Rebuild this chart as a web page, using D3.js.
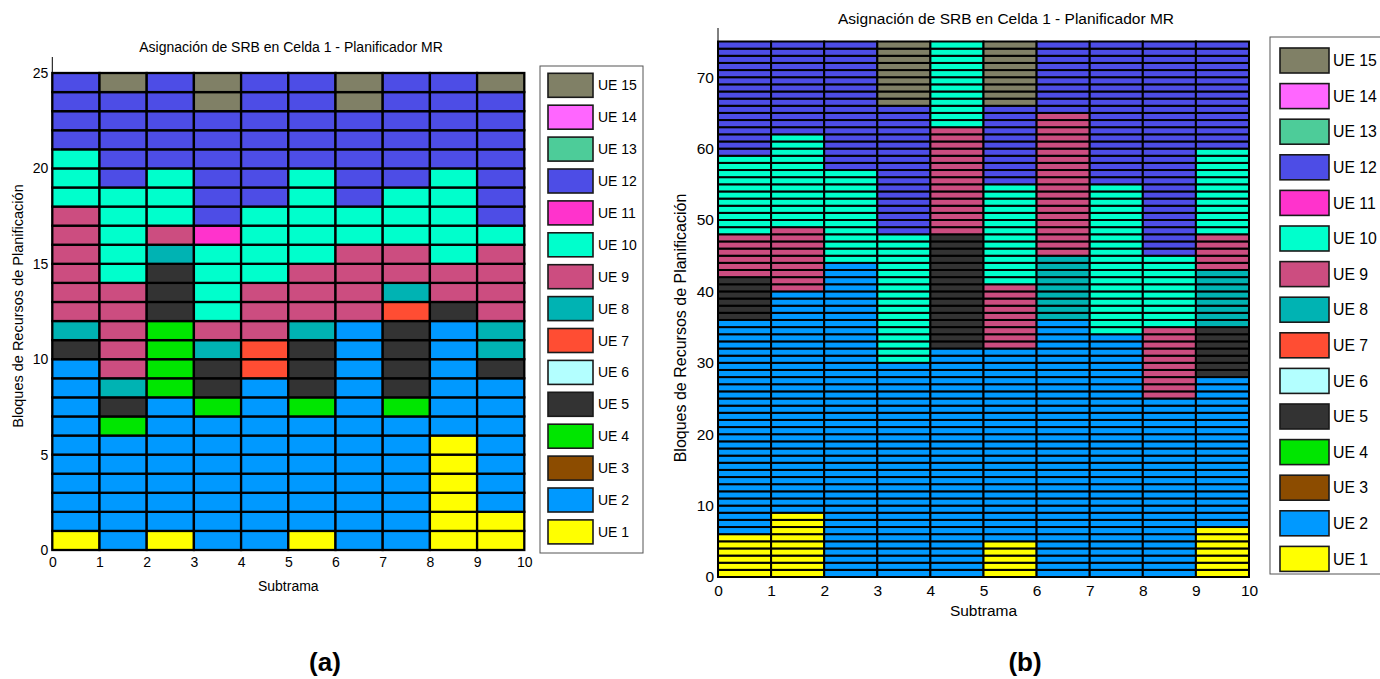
<!DOCTYPE html>
<html>
<head>
<meta charset="utf-8">
<script src="https://cdn.jsdelivr.net/npm/d3@7"></script>
<style>
  body { margin: 0; background: #ffffff; }
  svg { display: block; font-family: "Liberation Sans", Arial, Helvetica, sans-serif; }
</style>
</head>
<body>
<svg id="fig" width="1380" height="679"></svg>
<script>
// Sub-frames (x categories) and tick labels
const subtramas = d3.range(10);
const xTicks = d3.range(0, 11);
const yTicksA = [0, 5, 10, 15, 20, 25];
const yTicksB = [0, 10, 20, 30, 40, 50, 60, 70];
const bloquesA = 25;
const bloquesB = 75;

// User equipments and their colours
const ueIds = d3.range(1, 16);
const ueLabels = ueIds.map(d => "UE " + d);
const ueColors = [
  "#ffff00", // UE 1
  "#0099ff", // UE 2
  "#8c4c00", // UE 3
  "#00e600", // UE 4
  "#333333", // UE 5
  "#b3ffff", // UE 6
  "#ff4d33", // UE 7
  "#00b3b3", // UE 8
  "#cc4d80", // UE 9
  "#00ffcc", // UE 10
  "#ff33cc", // UE 11
  "#4d4de6", // UE 12
  "#4dcc99", // UE 13
  "#ff66ff", // UE 14
  "#808066"  // UE 15
];

// Resource block allocation per sub-frame, as [UE, number of blocks] runs from block 0 upwards
const asignacionA = [
  [[1,1],[2,9],[5,1],[8,1],[9,6],[10,3],[12,4]],
  [[2,6],[4,1],[5,1],[8,1],[9,5],[10,5],[12,5],[15,1]],
  [[1,1],[2,7],[4,4],[5,3],[8,1],[9,1],[10,3],[12,5]],
  [[2,7],[4,1],[5,2],[8,1],[9,1],[10,4],[11,1],[12,6],[15,2]],
  [[2,9],[7,2],[9,3],[10,4],[12,7]],
  [[1,1],[2,6],[4,1],[5,3],[8,1],[9,3],[10,5],[12,5]],
  [[2,12],[9,4],[10,2],[12,5],[15,2]],
  [[2,7],[4,1],[5,4],[7,1],[8,1],[9,2],[10,3],[12,6]],
  [[1,6],[2,6],[5,1],[9,2],[10,5],[12,5]],
  [[1,2],[2,7],[5,1],[8,2],[9,4],[10,1],[12,7],[15,1]]
];

const asignacionB = [
  [[1,6],[2,30],[5,6],[9,6],[10,11],[12,16]],
  [[1,9],[2,31],[9,9],[10,13],[12,13]],
  [[2,44],[10,13],[12,18]],
  [[2,30],[10,18],[12,18],[15,9]],
  [[2,32],[5,16],[9,15],[10,12]],
  [[1,5],[2,27],[9,9],[10,14],[12,11],[15,9]],
  [[2,36],[8,9],[9,20],[12,10]],
  [[2,34],[10,21],[12,20]],
  [[2,25],[9,10],[10,10],[12,30]],
  [[1,7],[2,21],[5,7],[8,8],[9,5],[10,12],[12,15]]
];

const titulo = "Asignación de SRB en Celda 1 - Planificador MR";
const etiquetaX = "Subtrama";
const etiquetaY = "Bloques de Recursos de Planificación";

const svg = d3.select("#fig");
const color = d3.scaleOrdinal().domain(ueIds).range(ueColors);

function expandir(asignacion) {
  const celdas = [];
  asignacion.forEach((runs, col) => {
    let inicio = 0;
    runs.forEach(([ue, n]) => {
      for (let k = 0; k < n; k++) celdas.push({ col: subtramas[col], bloque: inicio + k, ue });
      inicio += n;
    });
  });
  return celdas;
}

function panel(cfg) {
  const g = svg.append("g");
  const x = d3.scaleLinear().domain([0, 10]).range([cfg.left, cfg.right]);
  const y = d3.scaleLinear().domain([0, cfg.bloques]).range([cfg.bottom, cfg.top]);

  // allocation cells
  g.append("g").selectAll("rect")
    .data(expandir(cfg.asignacion))
    .join("rect")
      .attr("x", d => x(d.col))
      .attr("y", d => y(d.bloque + 1))
      .attr("width", d => x(d.col + 1) - x(d.col))
      .attr("height", d => y(d.bloque) - y(d.bloque + 1))
      .attr("fill", d => color(d.ue))
      .attr("stroke", "#000")
      .attr("stroke-width", cfg.borde);

  // axes
  const ax = g.append("g").attr("transform", `translate(0,${cfg.bottom})`)
    .call(d3.axisBottom(x).tickValues(xTicks).tickSize(0).tickPadding(cfg.fs * 0.5));
  ax.select(".domain").remove();
  ax.selectAll("text").attr("font-size", cfg.fs).attr("fill", "#000").attr("font-family", null);

  const ay = g.append("g").attr("transform", `translate(${cfg.left},0)`)
    .call(d3.axisLeft(y).tickValues(cfg.yTicks).tickSize(0).tickPadding(4));
  ay.select(".domain").remove();
  ay.selectAll("text").attr("font-size", cfg.fs).attr("fill", "#000").attr("font-family", null);

  g.append("line").attr("x1", cfg.left).attr("x2", cfg.left)
    .attr("y1", cfg.bottom).attr("y2", cfg.axisTop)
    .attr("stroke", "#000").attr("stroke-width", 1);
  g.append("line").attr("x1", cfg.left).attr("x2", cfg.right)
    .attr("y1", cfg.bottom).attr("y2", cfg.bottom)
    .attr("stroke", "#000").attr("stroke-width", 1);

  // titles
  g.append("text").attr("x", cfg.titleX).attr("y", cfg.titleY)
    .attr("text-anchor", "middle").attr("font-size", cfg.fsTitle).text(titulo);
  g.append("text").attr("x", (cfg.left + cfg.right) / 2).attr("y", cfg.xlabY)
    .attr("text-anchor", "middle").attr("font-size", cfg.fsTitle).text(etiquetaX);
  g.append("text")
    .attr("transform", `translate(${cfg.ylabX},${cfg.ylabY}) rotate(-90)`)
    .attr("text-anchor", "middle").attr("font-size", cfg.fsYlab).text(etiquetaY);

  // legend
  const lg = g.append("g");
  lg.append("rect").attr("x", cfg.leg.x).attr("y", cfg.leg.y)
    .attr("width", cfg.leg.w).attr("height", cfg.leg.h)
    .attr("fill", "#fff").attr("stroke", "#555").attr("stroke-width", 1);
  const orden = ueIds.slice().reverse();
  const item = lg.selectAll("g.item").data(orden).join("g")
    .attr("transform", (d, i) => `translate(0,${cfg.leg.first + i * cfg.leg.step})`);
  item.append("rect")
    .attr("x", cfg.leg.sx).attr("y", -cfg.leg.sh / 2)
    .attr("width", cfg.leg.sw).attr("height", cfg.leg.sh)
    .attr("fill", d => color(d)).attr("stroke", "#1a1a1a").attr("stroke-width", 1.6);
  item.append("text")
    .attr("x", cfg.leg.tx).attr("y", 0).attr("dy", "0.36em")
    .attr("font-size", cfg.fsLeg).text(d => ueLabels[d - 1]);

  // panel tag
  g.append("text").attr("x", cfg.tagX).attr("y", 671)
    .attr("text-anchor", "middle").attr("font-size", 26).attr("font-weight", "bold")
    .text(cfg.tag);
}

panel({
  asignacion: asignacionA, bloques: bloquesA, yTicks: yTicksA,
  left: 52.3, right: 524.3, top: 73, bottom: 550, axisTop: 57, borde: 2.3,
  fs: 14, fsTitle: 14, fsLeg: 14, fsYlab: 14.5,
  titleX: 291, titleY: 52, xlabY: 591, ylabX: 23, ylabY: 306,
  leg: { x: 540, y: 66, w: 103, h: 487, first: 85.3, step: 31.9, sx: 548, sw: 45, sh: 24, tx: 598 },
  tagX: 325, tag: "(a)"
});

panel({
  asignacion: asignacionB, bloques: bloquesB, yTicks: yTicksB,
  left: 718, right: 1249, top: 41.5, bottom: 577, axisTop: 28, borde: 2,
  fs: 15.5, fsTitle: 15.5, fsLeg: 15.8, fsYlab: 16,
  titleX: 1006, titleY: 24, xlabY: 616, ylabX: 686, ylabY: 328,
  leg: { x: 1270, y: 37, w: 130, h: 537, first: 60.5, step: 35.6, sx: 1280, sw: 49, sh: 25, tx: 1333 },
  tagX: 1025, tag: "(b)"
});
</script>
</body>
</html>
